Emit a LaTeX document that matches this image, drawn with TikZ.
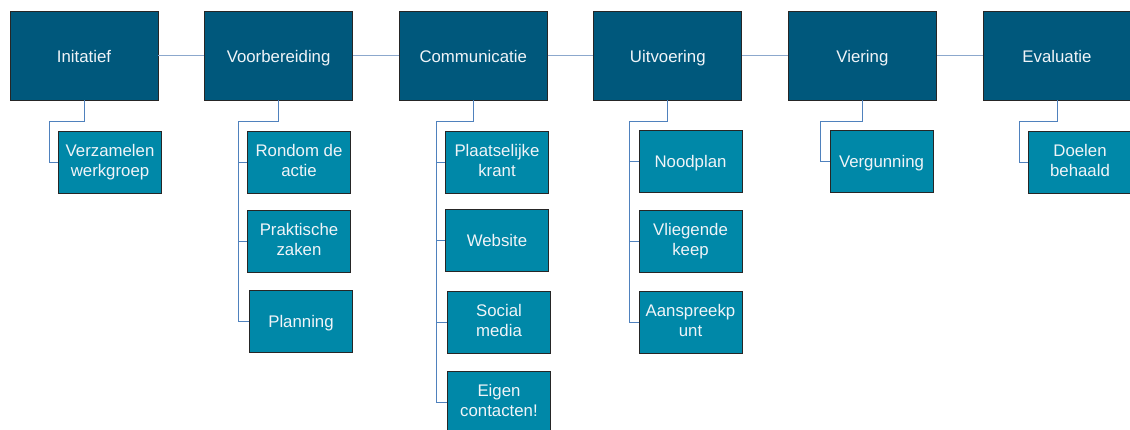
\documentclass[tikz,border=0pt]{standalone}
\usepackage{fontspec}
\setmainfont{Liberation Sans}
\usepackage{xcolor}
\usetikzlibrary{positioning}
\definecolor{phase}{RGB}{0,88,124}
\definecolor{task}{RGB}{0,136,168}
\definecolor{link}{RGB}{79,129,189}
\definecolor{chain}{RGB}{140,168,205}
\definecolor{lighttext}{RGB}{240,244,248}
\newcommand{\linestrut}{\rule[-3.2pt]{0pt}{20pt}}

\begin{document}
\begin{tikzpicture}[
  x=1pt, y=-1pt,
  font=\fontsize{16.8}{20}\selectfont,
  phasebox/.style={draw=black!85, fill=phase, text=lighttext, line width=0.9pt, minimum width=148pt, minimum height=89pt, inner sep=0pt, align=center, execute at begin node=\linestrut, execute at end node=\linestrut},
  taskbox/.style={draw=black!85, fill=task, text=lighttext, line width=0.9pt, minimum width=103pt, minimum height=62pt, inner sep=0pt, align=center, execute at begin node=\linestrut, execute at end node=\linestrut},
  tie/.style={draw=link, line width=1pt},
  row/.style={draw=chain, line width=1pt}
]
\useasboundingbox (0,0) rectangle (1130,429);
\node[phasebox] (ini) at (84,55.5) {Initatief};
\node[phasebox, right=45.7pt of ini] (voor) {Voorbereiding};
\node[phasebox, right=45.7pt of voor] (comm) {Communicatie};
\node[phasebox, right=45.7pt of comm] (uitv) {Uitvoering};
\node[phasebox, right=45.7pt of uitv] (vier) {Viering};
\node[phasebox, right=45.7pt of vier] (eval) {Evaluatie};
\draw[row] (ini) -- (voor);
\draw[row] (voor) -- (comm);
\draw[row] (comm) -- (uitv);
\draw[row] (uitv) -- (vier);
\draw[row] (vier) -- (eval);
\node[taskbox] (ini1) at (110,162) {Verzamelen\\werkgroep};
\node[taskbox] (voor1) at (299,162) {Rondom de\\actie};
\node[taskbox] (voor2) at (299,241) {Praktische\\zaken};
\node[taskbox] (voor3) at (301,321) {Planning};
\node[taskbox] (comm1) at (497,162) {Plaatselijke\\krant};
\node[taskbox] (comm2) at (497,240) {Website};
\node[taskbox] (comm3) at (499,322) {Social\\media};
\node[taskbox] (comm4) at (499,402) {Eigen\\contacten!};
\node[taskbox] (uitv1) at (690.5,161) {Noodplan};
\node[taskbox] (uitv2) at (690.5,241) {Vliegende\\keep};
\node[taskbox] (uitv3) at (690.5,322) {Aanspreekp\\unt};
\node[taskbox] (vier1) at (881.5,161) {Vergunning};
\node[taskbox] (eval1) at (1080,162) {Doelen\\behaald};
\coordinate (inibus) at (49,121);
\coordinate (voorbus) at (238,121);
\coordinate (commbus) at (436,121);
\coordinate (uitvbus) at (629,121);
\coordinate (vierbus) at (820,121);
\coordinate (evalbus) at (1019,121);
\draw[tie] (ini.south) |- (inibus) |- (ini1.west);
\draw[tie] (voor.south) |- (voorbus) |- (voor1.west);
\draw[tie] (voor.south) |- (voorbus) |- (voor2.west);
\draw[tie] (voor.south) |- (voorbus) |- (voor3.west);
\draw[tie] (comm.south) |- (commbus) |- (comm1.west);
\draw[tie] (comm.south) |- (commbus) |- (comm2.west);
\draw[tie] (comm.south) |- (commbus) |- (comm3.west);
\draw[tie] (comm.south) |- (commbus) |- (comm4.west);
\draw[tie] (uitv.south) |- (uitvbus) |- (uitv1.west);
\draw[tie] (uitv.south) |- (uitvbus) |- (uitv2.west);
\draw[tie] (uitv.south) |- (uitvbus) |- (uitv3.west);
\draw[tie] (vier.south) |- (vierbus) |- (vier1.west);
\draw[tie] (eval.south) |- (evalbus) |- (eval1.west);
\end{tikzpicture}
\end{document}
